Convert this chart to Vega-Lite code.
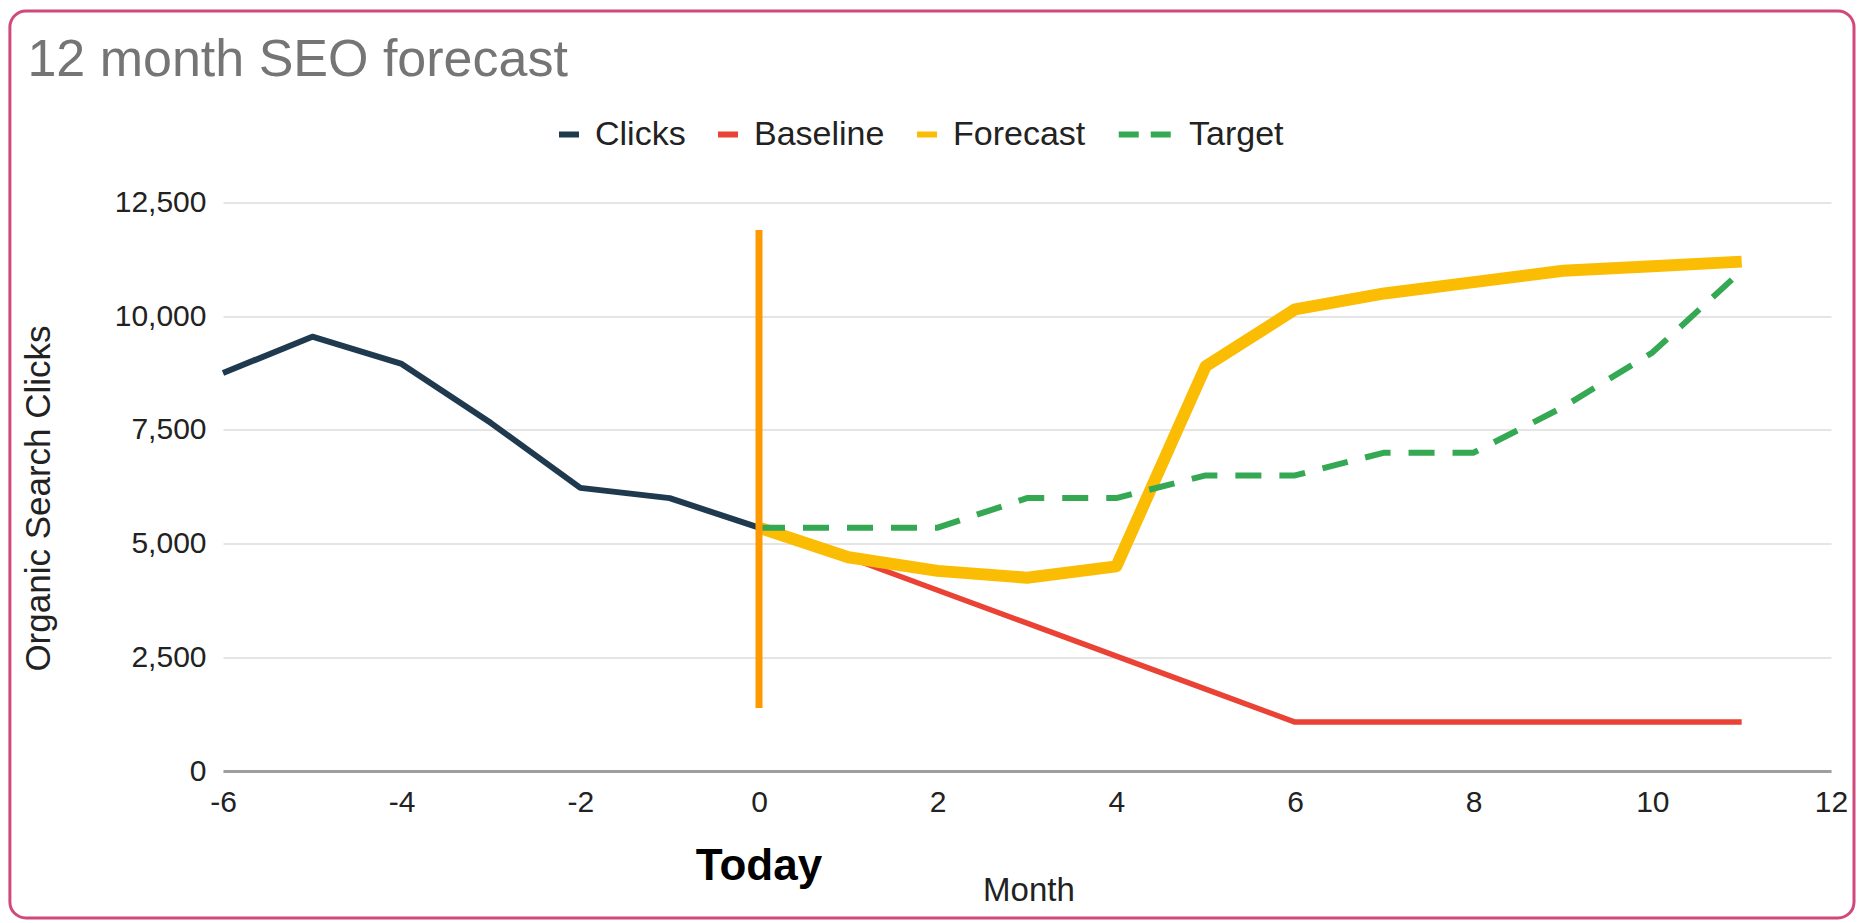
{
  "$schema": "https://vega.github.io/schema/vega-lite/v6.json",
  "width": 1608,
  "height": 568.5,
  "padding": {"left": 8, "top": 9.5, "right": 0, "bottom": 0},
  "background": "white",
  "title": {
    "text": "12 month SEO forecast",
    "anchor": "start",
    "frame": "bounds",
    "orient": "top",
    "offset": -67.5,
    "dx": 19,
    "dy": 51,
    "baseline": "alphabetic",
    "font": "Liberation Sans",
    "fontSize": 52,
    "fontWeight": "normal",
    "color": "#757575"
  },
  "datasets": {
    "series": [
      {"month": -6, "series": "Clicks", "clicks": 8750},
      {"month": -5, "series": "Clicks", "clicks": 9550},
      {"month": -4, "series": "Clicks", "clicks": 8950},
      {"month": -3, "series": "Clicks", "clicks": 7650},
      {"month": -2, "series": "Clicks", "clicks": 6225},
      {"month": -1, "series": "Clicks", "clicks": 6000},
      {"month": 0, "series": "Clicks", "clicks": 5350},
      {"month": 0, "series": "Baseline", "clicks": 5350},
      {"month": 1, "series": "Baseline", "clicks": 4700},
      {"month": 2, "series": "Baseline", "clicks": 3975},
      {"month": 3, "series": "Baseline", "clicks": 3250},
      {"month": 4, "series": "Baseline", "clicks": 2525},
      {"month": 5, "series": "Baseline", "clicks": 1800},
      {"month": 6, "series": "Baseline", "clicks": 1075},
      {"month": 7, "series": "Baseline", "clicks": 1075},
      {"month": 8, "series": "Baseline", "clicks": 1075},
      {"month": 9, "series": "Baseline", "clicks": 1075},
      {"month": 10, "series": "Baseline", "clicks": 1075},
      {"month": 11, "series": "Baseline", "clicks": 1075},
      {"month": 0, "series": "Forecast", "clicks": 5350},
      {"month": 1, "series": "Forecast", "clicks": 4700},
      {"month": 2, "series": "Forecast", "clicks": 4400},
      {"month": 3, "series": "Forecast", "clicks": 4250},
      {"month": 4, "series": "Forecast", "clicks": 4500},
      {"month": 5, "series": "Forecast", "clicks": 8900},
      {"month": 6, "series": "Forecast", "clicks": 10150},
      {"month": 7, "series": "Forecast", "clicks": 10500},
      {"month": 8, "series": "Forecast", "clicks": 10750},
      {"month": 9, "series": "Forecast", "clicks": 11000},
      {"month": 10, "series": "Forecast", "clicks": 11100},
      {"month": 11, "series": "Forecast", "clicks": 11200},
      {"month": 0, "series": "Target", "clicks": 5350},
      {"month": 1, "series": "Target", "clicks": 5350},
      {"month": 2, "series": "Target", "clicks": 5350},
      {"month": 3, "series": "Target", "clicks": 6000},
      {"month": 4, "series": "Target", "clicks": 6000},
      {"month": 5, "series": "Target", "clicks": 6500},
      {"month": 6, "series": "Target", "clicks": 6500},
      {"month": 7, "series": "Target", "clicks": 7000},
      {"month": 8, "series": "Target", "clicks": 7000},
      {"month": 9, "series": "Target", "clicks": 8000},
      {"month": 10, "series": "Target", "clicks": 9200},
      {"month": 11, "series": "Target", "clicks": 11000}
    ],
    "today": [{"label": "Today", "month": 0}]
  },
  "layer": [
    {
      "data": {"name": "series"},
      "encoding": {
        "x": {
          "field": "month",
          "type": "quantitative",
          "scale": {"domain": [-6, 12], "nice": false, "zero": false},
          "axis": {
            "title": "Month",
            "values": [-6, -4, -2, 0, 2, 4, 6, 8, 10, 12],
            "labelExpr": "toString(datum.value)",
            "grid": false,
            "ticks": false,
            "tickSize": 0,
            "domain": true,
            "domainColor": "#9e9e9e",
            "domainWidth": 3,
            "zindex": 1,
            "labelFont": "Liberation Sans",
            "labelFontSize": 30,
            "labelColor": "#222222",
            "labelPadding": 16,
            "labelFlush": false,
            "labelOverlap": false,
            "titleFont": "Liberation Sans",
            "titleFontSize": 33,
            "titleFontWeight": "normal",
            "titleColor": "#222222",
            "titleX": 805.4,
            "titleY": 129,
            "titleAlign": "center",
            "titleBaseline": "alphabetic"
          }
        },
        "y": {
          "field": "clicks",
          "type": "quantitative",
          "scale": {"domain": [0, 12500], "nice": false, "zero": false},
          "axis": {
            "title": "Organic Search Clicks",
            "values": [0, 2500, 5000, 7500, 10000, 12500],
            "format": ",d",
            "grid": true,
            "gridColor": "#dcdcdc",
            "gridWidth": 1.5,
            "domain": false,
            "ticks": false,
            "tickSize": 0,
            "zindex": 0,
            "labelFont": "Liberation Sans",
            "labelFontSize": 30,
            "labelColor": "#222222",
            "labelPadding": 17,
            "titleFont": "Liberation Sans",
            "titleFontSize": 35,
            "titleFontWeight": "normal",
            "titleColor": "#222222",
            "titleAngle": -90,
            "titleX": -184.6,
            "titleY": 295.5,
            "titleAlign": "center",
            "titleBaseline": "middle"
          }
        },
        "color": {
          "field": "series",
          "type": "nominal",
          "scale": {
            "domain": ["Clicks", "Baseline", "Forecast", "Target"],
            "range": ["#1f3a4f", "#ea4335", "#fbbc04", "#34a853"]
          },
          "legend": {
            "title": null,
            "orient": "none",
            "direction": "horizontal",
            "legendX": 329,
            "legendY": -85,
            "padding": 0,
            "symbolType": "stroke",
            "symbolSize": 400,
            "symbolStrokeWidth": 6,
            "labelFont": "Liberation Sans",
            "labelFontSize": 34,
            "labelColor": "#222222",
            "labelOffset": 9,
            "columnPadding": 20,
            "encode": {
              "symbols": {
                "update": {
                  "size": {"signal": "datum.value === 'Target' ? 2970 : 400"},
                  "strokeDash": {"signal": "datum.value === 'Target' ? [20, 12] : [1, 0]"}
                }
              },
              "labels": {
                "update": {
                  "dx": {"signal": "datum.value === 'Target' ? 17 : 0"}
                }
              }
            }
          }
        }
      },
      "layer": [
        {
          "transform": [{"filter": "datum.series === 'Clicks'"}],
          "mark": {"type": "line", "strokeWidth": 6, "strokeJoin": "round", "strokeCap": "butt"}
        },
        {
          "transform": [{"filter": "datum.series === 'Baseline'"}],
          "mark": {"type": "line", "strokeWidth": 5.5, "strokeJoin": "round", "strokeCap": "butt"}
        },
        {
          "transform": [{"filter": "datum.series === 'Forecast'"}],
          "mark": {"type": "line", "strokeWidth": 12, "strokeJoin": "round", "strokeCap": "butt"}
        },
        {
          "transform": [{"filter": "datum.series === 'Target'"}],
          "mark": {"type": "line", "strokeWidth": 6, "strokeDash": [26, 18], "strokeJoin": "round", "strokeCap": "butt"}
        }
      ]
    },
    {
      "data": {"name": "today"},
      "mark": {"type": "rule", "color": "#ff9900", "strokeWidth": 7},
      "encoding": {
        "x": {"field": "month", "type": "quantitative"},
        "y": {"datum": 1385, "type": "quantitative"},
        "y2": {"datum": 11895}
      }
    },
    {
      "data": {"name": "today"},
      "mark": {
        "type": "text",
        "font": "Liberation Sans",
        "fontWeight": "bold",
        "fontSize": 44,
        "align": "center",
        "baseline": "alphabetic",
        "color": "#000000"
      },
      "encoding": {
        "x": {"field": "month", "type": "quantitative"},
        "y": {"datum": -2400, "type": "quantitative"},
        "text": {"field": "label", "type": "nominal"}
      }
    },
    {
      "data": {"name": "today"},
      "mark": {"type": "rect", "filled": false, "stroke": "#d1497b", "strokeWidth": 3, "cornerRadius": 16},
      "encoding": {
        "x": {"datum": -8.3855, "type": "quantitative"},
        "x2": {"datum": 12.2575},
        "y": {"datum": 16710, "type": "quantitative"},
        "y2": {"datum": -3232}
      }
    }
  ],
  "config": {
    "view": {"stroke": null}
  }
}
